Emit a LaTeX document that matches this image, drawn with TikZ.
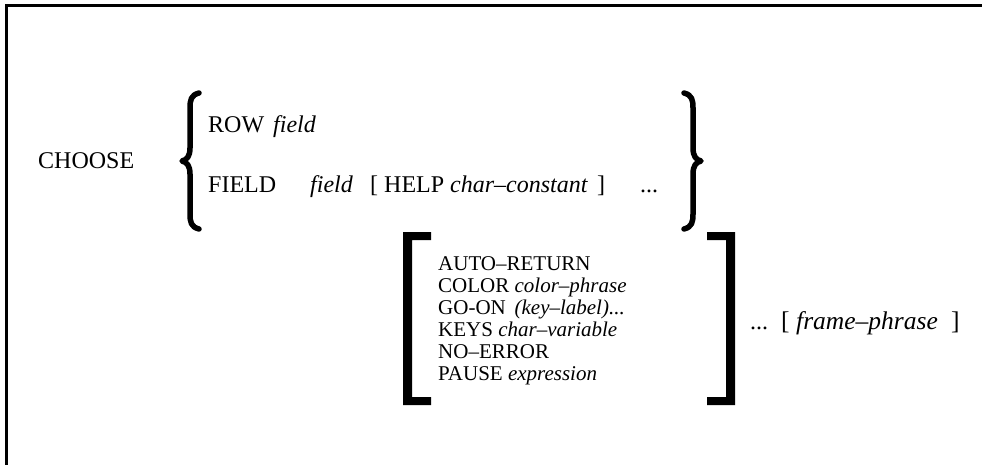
\documentclass[tikz,border=0pt]{standalone}
\usepackage{fontspec}
\setmainfont{Liberation Serif}
\begin{document}
\begin{tikzpicture}[x=1pt,y=-1pt,
  txt/.style={anchor=base west,inner sep=0pt,font=\fontsize{24}{28}\selectfont},
  small/.style={anchor=base west,inner sep=0pt,font=\fontsize{21}{24}\selectfont},
  big/.style={anchor=base west,inner sep=0pt,font=\fontsize{25.5}{28}\selectfont},
  brace/.style={line width=5.5pt,line cap=round,line join=round},
  bracketfill/.style={fill=black,draw=none}]
\useasboundingbox (0,0) rectangle (982,465);
% frame
\draw[line width=3pt] (6,465) -- (6,6) -- (982,6);
% first part
\node[txt] (choose) at (38,169) {CHOOSE};
\draw[brace] (199,93) .. controls (191,95) and (190,100) .. (190,108)
  -- (190,148) .. controls (190,156) and (187,160) .. (182,161)
  .. controls (187,162) and (190,166) .. (190,174)
  -- (190,214) .. controls (190,222) and (191,227) .. (199,229);
\draw[brace] (684,93) .. controls (692,95) and (693,100) .. (693,108)
  -- (693,148) .. controls (693,156) and (696,160) .. (701,161)
  .. controls (696,162) and (693,166) .. (693,174)
  -- (693,214) .. controls (693,222) and (692,227) .. (684,229);
\node[txt] (row) at (208,133) {ROW};
\node[txt] (rowf) at (273,133) {\itshape field};
\node[txt] (field) at (208,193) {FIELD};
\node[txt] (fieldf) at (310,193) {\itshape field};
\node[txt] (lb) at (370,193) {[};
\node[txt] (help) at (384,193) {HELP \textit{char–constant}};
\node[txt] (rb) at (597,193) {]};
\node[txt] (dots1) at (640,193) {...};
% second part
\fill[bracketfill] (403,232) -- (431,232) -- (431,240) -- (412,240) -- (412,397)
  -- (431,397) -- (431,405) -- (403,405) -- cycle;
\fill[bracketfill] (735,232) -- (707,232) -- (707,240) -- (726,240) -- (726,397)
  -- (707,397) -- (707,405) -- (735,405) -- cycle;
\node[small] (o1) at (438,270) {AUTO–RETURN};
\node[small] (o2) at (438,292) {COLOR \textit{color–phrase}};
\node[small] (o3) at (438,314) {GO-ON\, \textit{(key–label)...}};
\node[small] (o4) at (438,336) {KEYS \textit{char–variable}};
\node[small] (o5) at (438,358) {NO–ERROR};
\node[small] (o6) at (438,380) {PAUSE \textit{expression}};
\node[txt] (dots2) at (750,329) {...};
\node[big] (lb2) at (781,329) {[};
\node[big] (fp) at (796,329) {\itshape frame–phrase};
\node[big] (rb2) at (951,329) {]};
\end{tikzpicture}
\end{document}
